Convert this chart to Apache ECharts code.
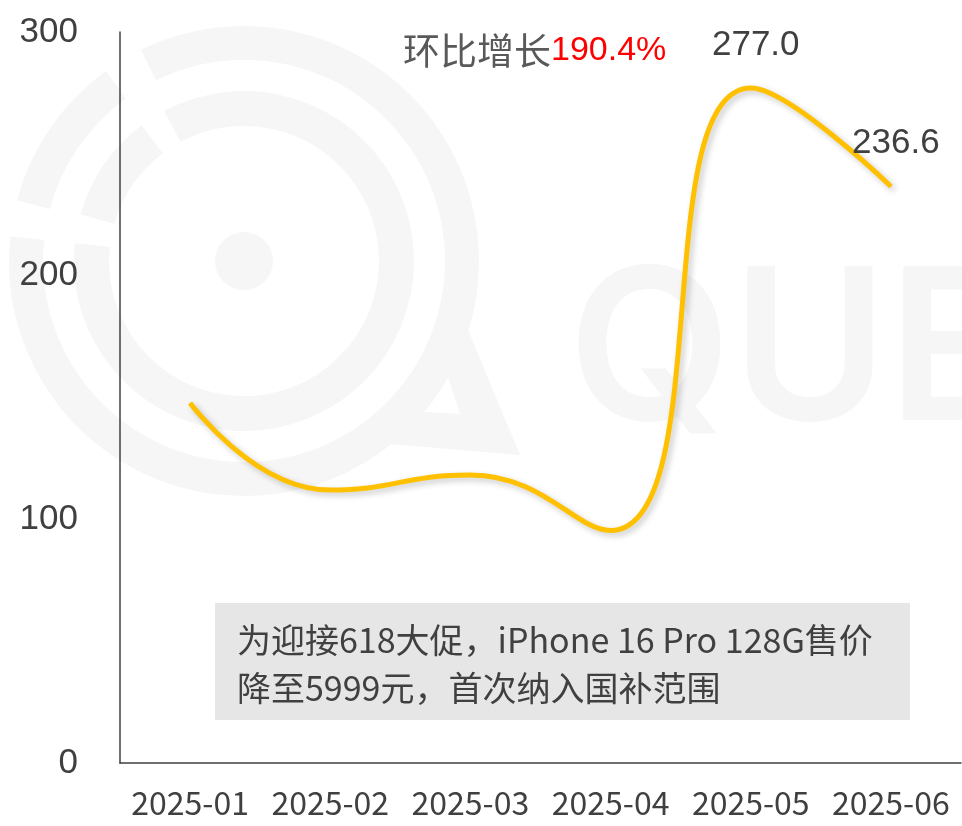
<!DOCTYPE html>
<html>
<head>
<meta charset="utf-8">
<title>iPhone 16 Pro 月度走势</title>
<script src="https://cdn.jsdelivr.net/npm/echarts@6/dist/echarts.min.js"></script>
<style>
    html, body { margin: 0; padding: 0; background: #fff; }
    #chart { width: 962px; height: 826px; }
</style>
</head>
<body>
<div id="chart"></div>
<script>
// 数据
var months = ['2025-01', '2025-02', '2025-03', '2025-04', '2025-05', '2025-06'];
var values = [147.7, 112.0, 118.2, 95.4, 277.0, 236.6];
var labelMonths = ['2025-05', '2025-06']; // 只标注这两个月
var growthText = '环比增长';
var growthValue = '190.4%';
var noteLines = ['为迎接618大促，iPhone 16 Pro 128G售价', '降至5999元，首次纳入国补范围'];

var markColor = '#FFC000';
var textColor = '#404040';
var wmColor = '#f6f6f6';
var deg = Math.PI / 180;

var myChart = echarts.init(document.getElementById('chart'));

// 水印 logo（淡灰色）
var cx = 244, cy = 261;
var watermark = [
    {type: 'sector', shape: {cx: cx, cy: cy, r0: 201, r: 235, startAngle: 244 * deg, endAngle: 546 * deg}},
    {type: 'sector', shape: {cx: cx, cy: cy, r0: 201, r: 235, startAngle: 195 * deg, endAngle: 234 * deg}},
    {type: 'sector', shape: {cx: cx, cy: cy, r0: 135, r: 170, startAngle: 242 * deg, endAngle: 546 * deg}},
    {type: 'sector', shape: {cx: cx, cy: cy, r0: 135, r: 170, startAngle: 196 * deg, endAngle: 233 * deg}},
    {type: 'circle', shape: {cx: cx, cy: cy, r: 29}},
    {type: 'polygon', shape: {points: [[436, 340], [468, 330], [520, 455], [390, 444], [392, 410], [460, 414]]}},
    {type: 'text', left: 568, top: 250, style: {text: 'QUE', fontFamily: 'Inter', fontWeight: 600, fontSize: 212, fill: wmColor}}
].map(function (el) {
    el.z = -10;
    el.silent = true;
    if (el.type !== 'text') el.style = {fill: wmColor};
    return el;
});

var option = {
    animation: false,
    backgroundColor: '#fff',
    grid: {
        left: 120,
        right: 1,
        top: 32,
        bottom: 63
    },
    xAxis: {
        type: 'category',
        data: months,
        boundaryGap: true,
        axisLine: {lineStyle: {color: textColor, width: 1.5}},
        axisTick: {show: false},
        axisLabel: {
            interval: 0,
            color: textColor,
            fontFamily: 'Noto Sans CJK SC',
            fontSize: 32,
            margin: 24
        }
    },
    yAxis: {
        type: 'value',
        min: 0,
        max: 300,
        interval: 100,
        axisLine: {show: true, lineStyle: {color: textColor, width: 1.5}},
        axisTick: {show: false},
        splitLine: {show: false},
        axisLabel: {
            color: textColor,
            fontFamily: 'Liberation Sans',
            fontSize: 35,
            margin: 42
        }
    },
    graphic: watermark.concat([
        {
            type: 'text',
            left: 403,
            top: 32,
            style: {
                rich: {
                    a: {fontFamily: 'Noto Sans CJK SC', fontSize: 37, fill: '#595959'},
                    b: {fontFamily: 'Liberation Sans', fontSize: 34, fill: '#ff0000'}
                },
                text: '{a|' + growthText + '}{b|' + growthValue + '}'
            }
        },
        {
            type: 'group',
            left: 215,
            top: 603,
            children: [
                {type: 'rect', shape: {x: 0, y: 0, width: 695, height: 117}, style: {fill: '#e6e6e6'}},
                {
                    type: 'text',
                    x: 22,
                    y: 13,
                    style: {
                        text: noteLines.join('\n'),
                        fontFamily: 'Noto Sans CJK SC',
                        fontSize: 34,
                        lineHeight: 48,
                        fill: textColor
                    }
                }
            ]
        }
    ]),
    series: [{
        type: 'line',
        data: values,
        smooth: 0.5,
        symbol: 'circle',
        symbolSize: 1,
        itemStyle: {color: markColor},
        lineStyle: {
            color: markColor,
            width: 5,
            shadowColor: 'rgba(0,0,0,0.22)',
            shadowBlur: 6,
            shadowOffsetX: 3,
            shadowOffsetY: 3
        },
        label: {
            show: true,
            position: 'top',
            distance: 25,
            offset: [5, 0],
            color: textColor,
            fontFamily: 'Liberation Sans',
            fontSize: 35,
            formatter: function (p) {
                return labelMonths.indexOf(p.name) >= 0 ? p.value.toFixed(1) : '';
            }
        },
        z: 5
    }]
};

myChart.setOption(option);
</script>
</body>
</html>
